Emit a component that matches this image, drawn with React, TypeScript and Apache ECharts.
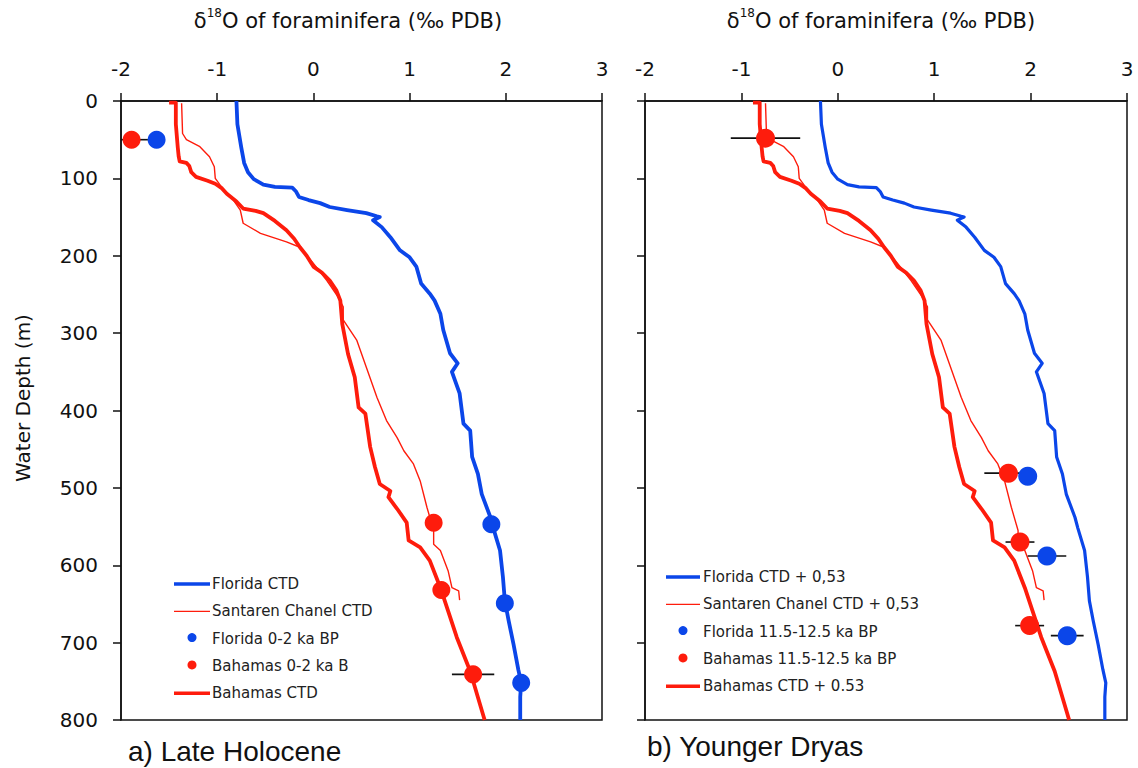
import React, { useEffect, useRef } from "react";
import * as echarts from "echarts";

type Pt = [number, number];

// ---------- axes ----------
const X_MIN = -2;
const X_MAX = 3;
const X_STEP = 1;
const DEPTH_MIN = 0;
const DEPTH_MAX = 800;
const DEPTH_STEP = 100;

const xTitle = "{m|δ}{sup|18}{m|O of foraminifera (‰ PDB)}";
const yTitle = "Water Depth (m)";
const panelLabels = ["a) Late Holocene", "b) Younger Dryas"];

// ---------- panel a) Late Holocene : [δ18O, depth m] ----------
const floridaCTD: Pt[] = [
  [-0.8, 0], [-0.79, 30], [-0.75, 60], [-0.72, 80], [-0.68, 92], [-0.62, 101], [-0.52, 108],
  [-0.4, 111], [-0.22, 112], [-0.18, 117], [-0.15, 124], [-0.05, 128], [0.07, 132], [0.17, 137],
  [0.35, 141], [0.55, 145], [0.66, 149], [0.69, 150], [0.62, 154], [0.71, 163], [0.8, 176],
  [0.9, 193], [1.0, 202], [1.07, 214], [1.12, 236], [1.21, 249], [1.26, 258], [1.32, 275],
  [1.35, 296], [1.42, 326], [1.5, 339], [1.44, 350], [1.52, 378], [1.56, 417], [1.63, 426],
  [1.65, 460], [1.71, 482], [1.75, 508], [1.84, 538], [1.87, 552], [1.94, 581], [1.97, 615],
  [1.99, 646], [2.03, 672], [2.08, 702], [2.13, 735], [2.16, 752], [2.15, 770], [2.15, 800],
];
const santarenCTD: Pt[] = [
  [-1.37, 3], [-1.36, 42], [-1.32, 50], [-1.18, 59], [-1.08, 72], [-1.03, 85], [-1.02, 100],
  [-0.95, 112], [-0.85, 125], [-0.76, 141], [-0.73, 158], [-0.55, 171], [-0.28, 182], [-0.14, 189],
  [0.0, 210], [0.14, 232], [0.25, 252], [0.31, 266], [0.31, 283], [0.45, 309], [0.55, 344],
  [0.66, 383], [0.76, 413], [0.87, 435], [0.94, 452], [1.04, 469], [1.11, 491], [1.18, 525],
  [1.25, 555], [1.25, 573], [1.32, 581], [1.4, 607], [1.44, 629], [1.51, 633], [1.52, 645],
];
const bahamasCTD: Pt[] = [
  [-1.5, 2], [-1.43, 2], [-1.43, 30], [-1.41, 60], [-1.4, 72], [-1.39, 78], [-1.32, 80],
  [-1.29, 84], [-1.27, 92], [-1.22, 98], [-1.1, 103], [-1.02, 107], [-0.95, 113], [-0.9, 120],
  [-0.8, 130], [-0.73, 139], [-0.6, 142], [-0.52, 145], [-0.4, 155], [-0.28, 167], [-0.2, 178],
  [-0.14, 189], [-0.07, 200], [0.0, 214], [0.09, 222], [0.17, 232], [0.24, 245], [0.28, 258],
  [0.3, 288], [0.36, 327], [0.43, 357], [0.47, 396], [0.54, 404], [0.59, 447], [0.64, 473],
  [0.69, 495], [0.8, 504], [0.78, 512], [0.87, 527], [0.97, 545], [0.99, 568], [1.11, 577],
  [1.21, 594], [1.32, 629], [1.4, 659], [1.49, 693], [1.63, 737], [1.78, 800],
];
const floridaHolocene: Pt[] = [[-1.63, 50], [1.85, 547], [1.99, 649], [2.16, 752]];
const floridaHoloceneErr = [0, 0, 0, 0];
const bahamasHolocene: Pt[] = [[-1.89, 50], [1.25, 545], [1.33, 632], [1.66, 741]];
const bahamasHoloceneErr = [0.17, 0, 0, 0.22];

// ---------- panel b) Younger Dryas : [δ18O, depth m] ----------
const floridaCTDplus: Pt[] = [
  [-0.18, 0], [-0.17, 30], [-0.13, 60], [-0.1, 80], [-0.06, 92], [0.0, 101], [0.1, 108],
  [0.22, 111], [0.4, 112], [0.44, 117], [0.47, 124], [0.57, 128], [0.69, 132], [0.79, 137],
  [0.97, 141], [1.17, 145], [1.28, 149], [1.31, 150], [1.24, 154], [1.33, 163], [1.42, 176],
  [1.52, 193], [1.62, 202], [1.69, 214], [1.74, 236], [1.83, 249], [1.88, 258], [1.94, 275],
  [1.97, 296], [2.04, 326], [2.12, 339], [2.06, 350], [2.14, 378], [2.18, 417], [2.25, 426],
  [2.27, 460], [2.33, 482], [2.37, 508], [2.46, 538], [2.49, 552], [2.56, 581], [2.59, 615],
  [2.61, 646], [2.65, 672], [2.7, 702], [2.75, 735], [2.78, 752], [2.77, 770], [2.77, 800],
];
const santarenCTDplus: Pt[] = [
  [-0.75, 3], [-0.74, 42], [-0.7, 50], [-0.56, 59], [-0.46, 72], [-0.41, 85], [-0.4, 100],
  [-0.33, 112], [-0.23, 125], [-0.14, 141], [-0.11, 158], [0.07, 171], [0.34, 182], [0.48, 189],
  [0.62, 210], [0.76, 232], [0.87, 252], [0.93, 266], [0.93, 283], [1.07, 309], [1.17, 344],
  [1.28, 383], [1.38, 413], [1.49, 435], [1.56, 452], [1.66, 469], [1.73, 491], [1.8, 525],
  [1.87, 555], [1.87, 573], [1.94, 581], [2.02, 607], [2.06, 629], [2.13, 633], [2.14, 645],
];
const bahamasCTDplus: Pt[] = [
  [-0.88, 2], [-0.81, 2], [-0.81, 30], [-0.79, 60], [-0.78, 72], [-0.77, 78], [-0.7, 80],
  [-0.67, 84], [-0.65, 92], [-0.6, 98], [-0.48, 103], [-0.4, 107], [-0.33, 113], [-0.28, 120],
  [-0.18, 130], [-0.11, 139], [0.02, 142], [0.1, 145], [0.22, 155], [0.34, 167], [0.42, 178],
  [0.48, 189], [0.55, 200], [0.62, 214], [0.71, 222], [0.79, 232], [0.86, 245], [0.9, 258],
  [0.92, 288], [0.98, 327], [1.05, 357], [1.09, 396], [1.16, 404], [1.21, 447], [1.26, 473],
  [1.31, 495], [1.42, 504], [1.4, 512], [1.49, 527], [1.59, 545], [1.61, 568], [1.73, 577],
  [1.83, 594], [1.94, 629], [2.02, 659], [2.11, 693], [2.25, 737], [2.4, 800],
];
const floridaYD: Pt[] = [[1.97, 485], [2.17, 588], [2.38, 691]];
const floridaYDErr = [0, 0.2, 0.17];
const bahamasYD: Pt[] = [[-0.75, 48], [1.77, 481], [1.89, 570], [1.99, 678]];
const bahamasYDErr = [0.36, 0.25, 0.15, 0.15];

// ---------- legend names ----------
const legendA = ["Florida CTD", "Santaren Chanel CTD", "Florida 0-2 ka BP", "Bahamas 0-2 ka B", "Bahamas CTD"];
const legendB = [
  "Florida CTD + 0,53",
  "Santaren Chanel CTD + 0,53",
  "Florida 11.5-12.5 ka BP",
  "Bahamas 11.5-12.5 ka BP",
  "Bahamas CTD + 0.53",
];

const BLUE = "#0b46e9";
const RED = "#fe1c0c";
const INK = "#111111";
const FONT = "DejaVu Sans";

const withErr = (pts: Pt[], err: number[]) =>
  pts.map((p, i) => [p[0], p[1], err[i]]).filter((d) => d[2] > 0);

export default function App() {
  const ref = useRef<HTMLDivElement>(null);

  useEffect(() => {
    document.body.style.margin = "0";
    const chart = echarts.init(ref.current!, null, { renderer: "svg" });

    const grids = [
      { left: 121, top: 101, width: 481, height: 619 },
      { left: 645, top: 101, width: 482, height: 619 },
    ];

    const xAxis = grids.map((_, i) => ({
      type: "value",
      gridIndex: i,
      position: "top",
      min: X_MIN,
      max: X_MAX,
      interval: X_STEP,
      axisLine: { show: true, onZero: false, lineStyle: { color: INK, width: 1.5 } },
      axisTick: { show: true, inside: false, length: 8, lineStyle: { color: INK, width: 1.5 } },
      axisLabel: { show: true, margin: 22, fontSize: 20, fontFamily: FONT, color: INK },
      splitLine: { show: false },
    }));

    const yAxis = grids.map((_, i) => ({
      type: "value",
      gridIndex: i,
      inverse: true,
      min: DEPTH_MIN,
      max: DEPTH_MAX,
      interval: DEPTH_STEP,
      axisLine: { show: true, onZero: false, lineStyle: { color: INK, width: 1.5 } },
      axisTick: { show: true, inside: false, length: 8, lineStyle: { color: INK, width: 1.5 } },
      axisLabel: { show: i === 0, margin: 23, fontSize: 20, fontFamily: FONT, color: INK },
      splitLine: { show: false },
    }));

    const lineSeries = (name: string, data: Pt[], idx: number, color: string, width: number, z: number) => ({
      type: "line",
      name,
      xAxisIndex: idx,
      yAxisIndex: idx,
      data,
      symbol: "none",
      showSymbol: false,
      clip: true,
      lineStyle: { color, width, join: "round" },
      z,
    });

    const dotSeries = (name: string, data: Pt[], idx: number, color: string, size: number) => ({
      type: "scatter",
      name,
      xAxisIndex: idx,
      yAxisIndex: idx,
      data,
      symbol: "circle",
      symbolSize: size,
      itemStyle: { color, opacity: 1 },
      z: 6,
    });

    const errSeries = (data: number[][], idx: number) => ({
      type: "custom",
      xAxisIndex: idx,
      yAxisIndex: idx,
      data,
      z: 5,
      renderItem: (params: any, api: any) => {
        const x = api.value(0);
        const y = api.value(1);
        const e = api.value(2);
        const p1 = api.coord([x - e, y]);
        const p2 = api.coord([x + e, y]);
        const cs = params.coordSys;
        return {
          type: "line",
          shape: {
            x1: Math.max(p1[0], cs.x),
            y1: p1[1],
            x2: Math.min(p2[0], cs.x + cs.width),
            y2: p2[1],
          },
          style: { stroke: INK, lineWidth: 1.6 },
        };
      },
    });

    const series = [
      lineSeries(legendA[1], santarenCTD, 0, RED, 1.4, 3),
      lineSeries(legendA[4], bahamasCTD, 0, RED, 3.8, 2),
      lineSeries(legendA[0], floridaCTD, 0, BLUE, 3.8, 2),
      errSeries([...withErr(bahamasHolocene, bahamasHoloceneErr), ...withErr(floridaHolocene, floridaHoloceneErr)], 0),
      dotSeries(legendA[2], floridaHolocene, 0, BLUE, 18),
      dotSeries(legendA[3], bahamasHolocene, 0, RED, 18),

      lineSeries(legendB[1], santarenCTDplus, 1, RED, 1.4, 3),
      lineSeries(legendB[4], bahamasCTDplus, 1, RED, 3.8, 2),
      lineSeries(legendB[0], floridaCTDplus, 1, BLUE, 3.2, 2),
      errSeries([...withErr(bahamasYD, bahamasYDErr), ...withErr(floridaYD, floridaYDErr)], 1),
      dotSeries(legendB[2], floridaYD, 1, BLUE, 19),
      dotSeries(legendB[3], bahamasYD, 1, RED, 19),
    ];

    // legend drawn as graphic so it sits inside each panel like the original
    const legendKinds = [
      { kind: "line", color: BLUE, width: 3.5 },
      { kind: "line", color: RED, width: 1.3 },
      { kind: "dot", color: BLUE, width: 0 },
      { kind: "dot", color: RED, width: 0 },
      { kind: "line", color: RED, width: 3.5 },
    ];
    const legendBoxes = [
      { x0: 174, x1: 210, tx: 212, y0: 584, gap: 27.3, names: legendA },
      { x0: 666, x1: 700, tx: 703, y0: 577, gap: 27.3, names: legendB },
    ];
    const legendGraphics: any[] = [];
    legendBoxes.forEach((b) => {
      b.names.forEach((name, i) => {
        const k = legendKinds[i];
        const y = b.y0 + i * b.gap;
        if (k.kind === "line") {
          legendGraphics.push({
            type: "line",
            shape: { x1: b.x0, y1: y, x2: b.x1, y2: y },
            style: { stroke: k.color, lineWidth: k.width },
          });
        } else {
          legendGraphics.push({
            type: "circle",
            shape: { cx: (b.x0 + b.x1) / 2, cy: y - 1, r: 4.5 },
            style: { fill: k.color },
          });
        }
        legendGraphics.push({
          type: "text",
          x: b.tx,
          y,
          style: { text: name, fontSize: 15, fontFamily: FONT, fill: "#222", align: "left", verticalAlign: "middle" },
        });
      });
    });

    const titleStyle = (text: string) => ({
      text,
      fontSize: 21,
      fontFamily: FONT,
      fill: INK,
      align: "center",
      verticalAlign: "middle",
      rich: {
        m: { fontSize: 21, fontFamily: FONT, fill: INK, verticalAlign: "bottom" },
        sup: { fontSize: 12, fontFamily: FONT, fill: INK, verticalAlign: "top", padding: [0, 0, 13, 0] },
      },
    });

    const graphic = [
      { type: "text", x: 348, y: 19, style: titleStyle(xTitle) },
      { type: "text", x: 881, y: 19, style: titleStyle(xTitle) },
      {
        type: "text",
        x: 23,
        y: 398,
        rotation: Math.PI / 2,
        style: { text: yTitle, fontSize: 20, fontFamily: FONT, fill: INK, align: "center", verticalAlign: "middle" },
      },
      {
        type: "text",
        x: 128,
        y: 751,
        style: { text: panelLabels[0], fontSize: 28, fontFamily: "Liberation Sans", fill: INK, align: "left", verticalAlign: "middle" },
      },
      {
        type: "text",
        x: 647,
        y: 746,
        style: { text: panelLabels[1], fontSize: 28, fontFamily: "Liberation Sans", fill: INK, align: "left", verticalAlign: "middle" },
      },
      ...legendGraphics,
    ];

    chart.setOption({
      animation: false,
      backgroundColor: "#ffffff",
      grid: grids.map((g) => ({ ...g, show: true, borderColor: INK, borderWidth: 1.5, backgroundColor: "transparent" })),
      xAxis,
      yAxis,
      series,
      graphic,
    });

    return () => chart.dispose();
  }, []);

  return <div ref={ref} style={{ position: "absolute", left: 0, top: 0, width: 1138, height: 768 }} />;
}
